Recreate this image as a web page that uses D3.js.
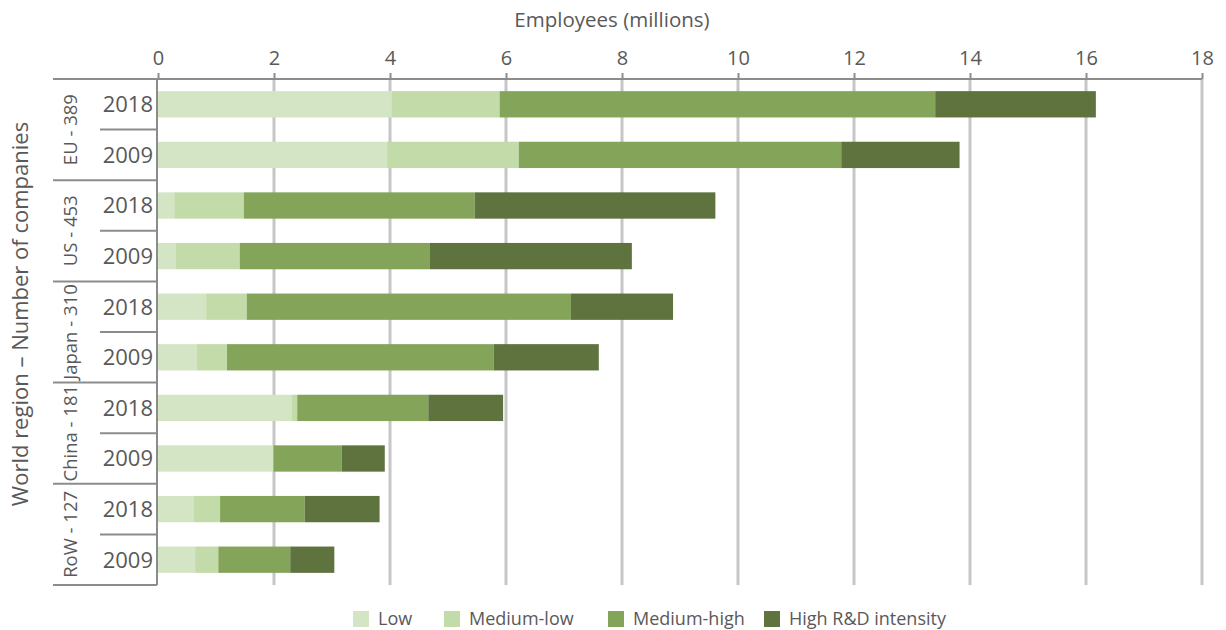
<!DOCTYPE html>
<html><head><meta charset="utf-8">
<script src="https://cdn.jsdelivr.net/npm/d3@7"></script>
<style>body{margin:0;background:#fff;font-family:"Open Sans",sans-serif;}</style>
</head><body><svg id="c" width="1226" height="630"></svg>
<script>
const regions = ["EU - 389","US - 453","Japan - 310","China - 181","RoW - 127"];
const years = ["2018","2009"];
const seriesNames = ["Low","Medium-low","Medium-high","High R&D intensity"];
const colors = ["#d4e5c5","#c3dba9","#84a45a","#5e733e"];
// values in millions of employees, rows ordered region/year
const low        = [4.03,3.94,0.28,0.31,0.83,0.67,2.31,1.99,0.62,0.64];
const mediumLow  = [1.86,2.28,1.20,1.10,0.70,0.52,0.09,0.00,0.45,0.40];
const mediumHigh = [7.51,5.56,3.98,3.27,5.59,4.60,2.26,1.18,1.46,1.24];
const high       = [2.77,2.04,4.15,3.49,1.76,1.81,1.29,0.74,1.29,0.76];
const xTicks = [0,2,4,6,8,10,12,14,16,18];

(function(){
const svg = d3.select("#c");
const L = 158, R = 1202, T = 79, B = 585;
const x = d3.scaleLinear().domain([0,18]).range([L,R]);
const rows = [];
regions.forEach((r,i)=>years.forEach((y,j)=>rows.push({region:r,year:y,idx:i*2+j})));
const yb = d3.scaleBand().domain(rows.map(d=>d.idx)).range([T,B]).paddingInner(0.48).paddingOuter(0.24);
const step = yb.step();

// gridlines
svg.append("g").selectAll("line").data(xTicks.slice(1)).join("line")
  .attr("x1",d=>x(d)).attr("x2",d=>x(d)).attr("y1",T).attr("y2",B)
  .attr("stroke","#c6c6c6").attr("stroke-width",3);

// stacked bars
const series = [low,mediumLow,mediumHigh,high];
const stackData = rows.map(r=>{const o={idx:r.idx}; seriesNames.forEach((s,k)=>o[s]=series[k][r.idx]); return o;});
const stacked = d3.stack().keys(seriesNames)(stackData);
svg.append("g").selectAll("g").data(stacked).join("g").attr("fill",(d,i)=>colors[i])
  .selectAll("rect").data(d=>d).join("rect")
  .attr("x",d=>x(d[0])).attr("width",d=>Math.max(0,x(d[1])-x(d[0])))
  .attr("y",d=>yb(d.data.idx)).attr("height",yb.bandwidth());

// top axis
const ax = svg.append("g").attr("transform",`translate(0,${T})`)
  .call(d3.axisTop(x).tickValues(xTicks).tickSize(6).tickPadding(8).tickFormat(d3.format("d")));
ax.select(".domain").remove();
ax.selectAll(".tick line").attr("stroke","#8c8c8c").attr("stroke-width",2);
ax.selectAll("text").attr("fill","#595959").style("font-size","20px").style("font-family","Open Sans");
svg.append("line").attr("x1",53).attr("x2",R).attr("y1",T).attr("y2",T).attr("stroke","#8c8c8c").attr("stroke-width",2);
svg.append("text").attr("x",612).attr("y",27).attr("text-anchor","middle")
  .attr("fill","#595959").style("font-size","20.5px").text("Employees (millions)");

// left axis line
svg.append("line").attr("x1",L-1).attr("x2",L-1).attr("y1",T).attr("y2",B).attr("stroke","#8c8c8c").attr("stroke-width",2);
// group separators
const grpEdges = d3.range(regions.length+1).map(i=>T+i*2*step);
svg.append("g").selectAll("line").data(grpEdges).join("line")
  .attr("x1",53).attr("x2",L-1).attr("y1",d=>d).attr("y2",d=>d).attr("stroke","#8c8c8c").attr("stroke-width",2);
// year separators
svg.append("g").selectAll("line").data(regions.map((r,i)=>T+(2*i+1)*step)).join("line")
  .attr("x1",100).attr("x2",L-1).attr("y1",d=>d).attr("y2",d=>d).attr("stroke","#8c8c8c").attr("stroke-width",2);

// year labels
svg.append("g").selectAll("text").data(rows).join("text")
  .attr("x",153).attr("y",d=>yb(d.idx)+yb.bandwidth()/2).attr("dy","0.36em").attr("text-anchor","end")
  .attr("fill","#595959").style("font-size","22px").text(d=>d.year);
// region labels
svg.append("g").selectAll("text").data(regions).join("text")
  .attr("transform",(d,i)=>`translate(77,${T+(2*i+1)*step}) rotate(-90)`)
  .attr("text-anchor","middle").attr("fill","#595959").style("font-size","18.5px").text(d=>d);
// y title
svg.append("text").attr("transform",`translate(28,314) rotate(-90)`)
  .attr("text-anchor","middle").attr("fill","#595959").style("font-size","22px").text("World region – Number of companies");

// legend
const legX = [353,444,608,764];
const lg = svg.append("g").selectAll("g").data(seriesNames).join("g")
  .attr("transform",(d,i)=>`translate(${legX[i]},611)`);
lg.append("rect").attr("width",16).attr("height",16).attr("fill",(d,i)=>colors[i]);
lg.append("text").attr("x",25).attr("y",8).attr("dy","0.34em").attr("fill","#595959").style("font-size","18px").text(d=>d);
})();
</script></body></html>
